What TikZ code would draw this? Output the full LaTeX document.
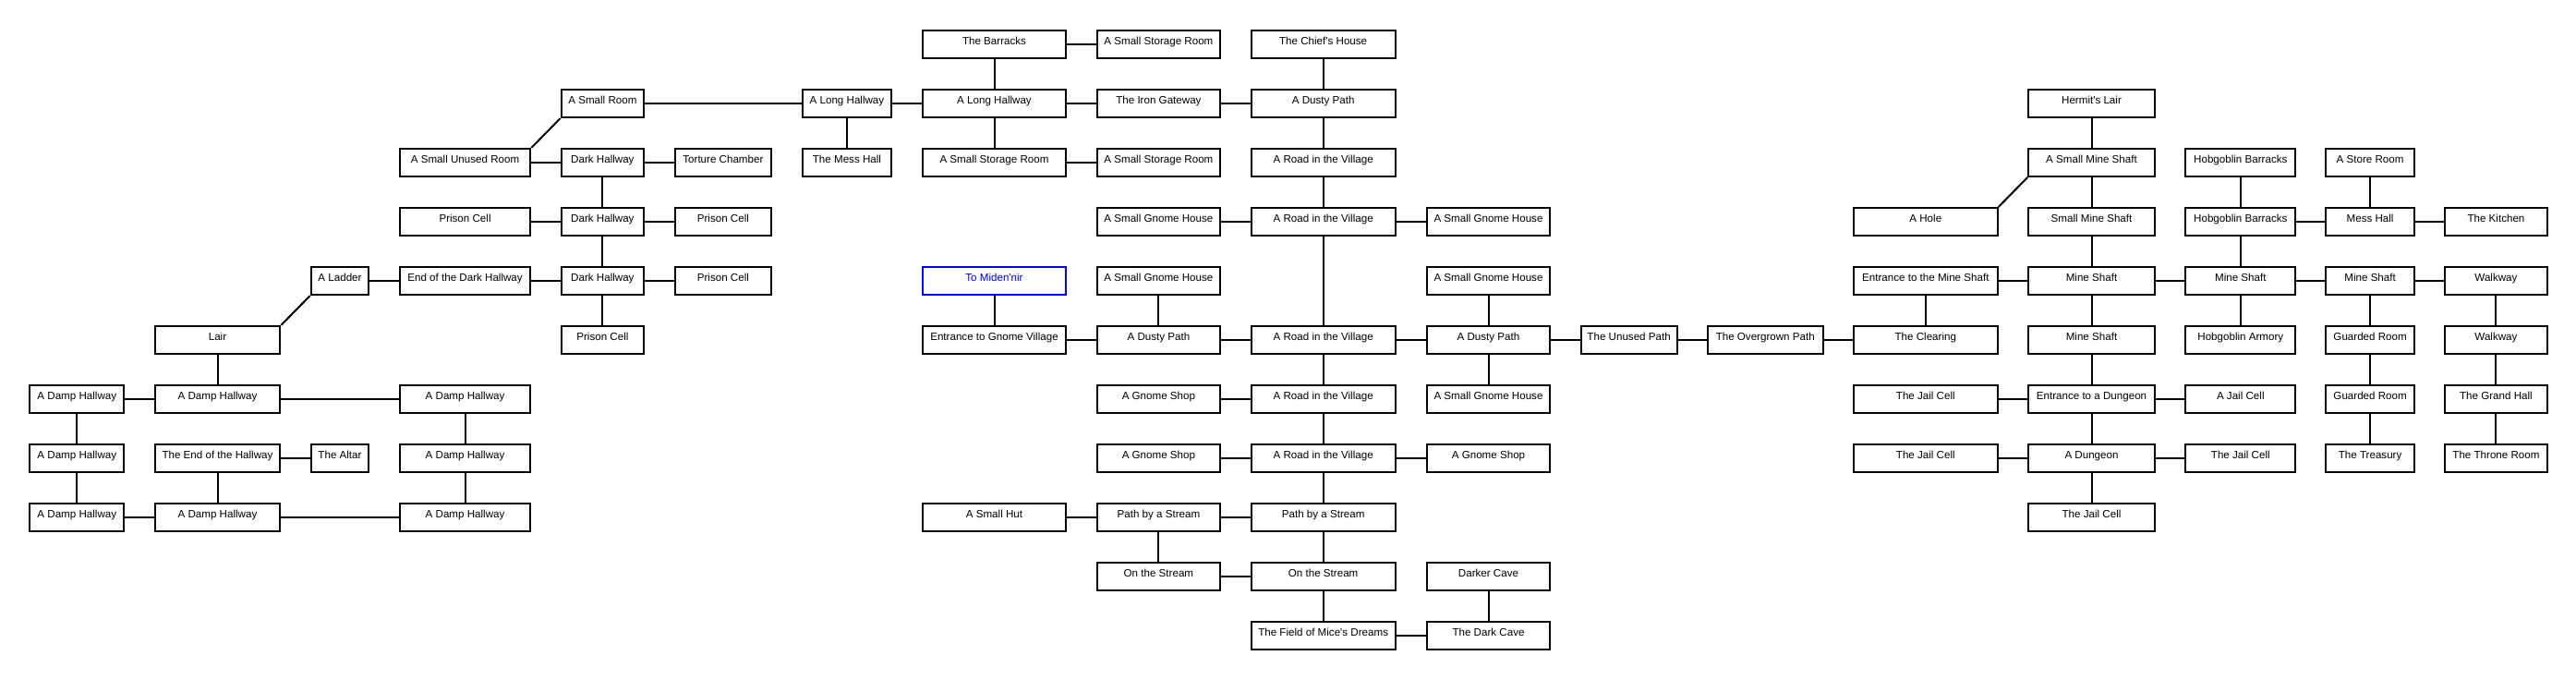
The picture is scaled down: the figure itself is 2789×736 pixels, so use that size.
\documentclass[tikz,border=0pt]{standalone}
\usepackage{fontspec}
\newfontfamily\roomfont{Liberation Sans}
\begin{document}
\begin{tikzpicture}[x=1pt,y=-1pt,
  room/.style={draw, line width=2pt, inner sep=0pt, minimum height=30pt,
    text height=15.3pt, text depth=14.7pt,
    font=\roomfont\fontsize{11.6}{13}\selectfont},
  link/.style={line width=2pt},
  portal/.style={draw=blue, text=blue},
  w1/.style={minimum width=101.8pt},
  w2/.style={minimum width=135.6pt},
  w3/.style={minimum width=62.6pt},
  w4/.style={minimum width=141.5pt},
  w5/.style={minimum width=89.4pt},
  w6/.style={minimum width=104.8pt},
  w7/.style={minimum width=96.5pt},
  w8/.style={minimum width=155.8pt},
  w9/.style={minimum width=133.2pt},
  w10/.style={minimum width=156.3pt},
  w11/.style={minimum width=133.2pt},
  w12/.style={minimum width=104.2pt},
  w13/.style={minimum width=124.5pt},
  w14/.style={minimum width=155.8pt},
  w15/.style={minimum width=136.8pt},
  w16/.style={minimum width=119pt},
  w17/.style={minimum width=95.8pt},
  w18/.style={minimum width=110.1pt}]
\useasboundingbox (0,0) rectangle (2789,736);
% row 0
\node[room,w8] (barracks) at (1076.5,48) {The Barracks};
\node[room,w9] (ssr0) at (1254.4,48) {A Small Storage Room};
\node[room,w10] (chief) at (1432.65,48) {The Chief's House};
% row 1
\node[room,w5] (sr) at (652.4,112) {A Small Room};
\node[room,w7] (lhw) at (916.95,112) {A Long Hallway};
\node[room,w8] (lh) at (1076.5,112) {A Long Hallway};
\node[room,w9] (iron) at (1254.4,112) {The Iron Gateway};
\node[room,w10] (dusty1) at (1432.65,112) {A Dusty Path};
\node[room,w15] (hermit) at (2264.5,112) {Hermit's Lair};
% row 2
\node[room,w4] (unused) at (503.55,176) {A Small Unused Room};
\node[room,w5] (dh2) at (652.4,176) {Dark Hallway};
\node[room,w6] (torture) at (782.9,176) {Torture Chamber};
\node[room,w7] (mess) at (916.95,176) {The Mess Hall};
\node[room,w8] (ssr2a) at (1076.5,176) {A Small Storage Room};
\node[room,w9] (ssr2b) at (1254.4,176) {A Small Storage Room};
\node[room,w10] (road2) at (1432.65,176) {A Road in the Village};
\node[room,w15] (asms) at (2264.5,176) {A Small Mine Shaft};
\node[room,w16] (hb2) at (2425.8,176) {Hobgoblin Barracks};
\node[room,w17] (store) at (2566.1,176) {A Store Room};
% row 3
\node[room,w4] (pc3a) at (503.55,240) {Prison Cell};
\node[room,w5] (dh3) at (652.4,240) {Dark Hallway};
\node[room,w6] (pc3b) at (782.9,240) {Prison Cell};
\node[room,w9] (sgh3a) at (1254.4,240) {A Small Gnome House};
\node[room,w10] (road3) at (1432.65,240) {A Road in the Village};
\node[room,w11] (sgh3b) at (1611.5,240) {A Small Gnome House};
\node[room,w14] (hole) at (2084.8,240) {A Hole};
\node[room,w15] (sms) at (2264.5,240) {Small Mine Shaft};
\node[room,w16] (hb3) at (2425.8,240) {Hobgoblin Barracks};
\node[room,w17] (messhall) at (2566.1,240) {Mess Hall};
\node[room,w18] (kitchen) at (2702.45,240) {The Kitchen};
% row 4
\node[room,w3] (ladder) at (368,304) {A Ladder};
\node[room,w4] (enddh) at (503.55,304) {End of the Dark Hallway};
\node[room,w5] (dh4) at (652.4,304) {Dark Hallway};
\node[room,w6] (pc4) at (782.9,304) {Prison Cell};
\node[room,w8,portal] (miden) at (1076.5,304) {To Miden'nir};
\node[room,w9] (sgh4a) at (1254.4,304) {A Small Gnome House};
\node[room,w11] (sgh4b) at (1611.5,304) {A Small Gnome House};
\node[room,w14] (ems) at (2084.8,304) {Entrance to the Mine Shaft};
\node[room,w15] (ms4a) at (2264.5,304) {Mine Shaft};
\node[room,w16] (ms4b) at (2425.8,304) {Mine Shaft};
\node[room,w17] (ms4c) at (2566.1,304) {Mine Shaft};
\node[room,w18] (walk4) at (2702.45,304) {Walkway};
% row 5
\node[room,w2] (lair) at (235.5,368) {Lair};
\node[room,w5] (pc5) at (652.4,368) {Prison Cell};
\node[room,w8] (egv) at (1076.5,368) {Entrance to Gnome Village};
\node[room,w9] (dp5a) at (1254.4,368) {A Dusty Path};
\node[room,w10] (road5) at (1432.65,368) {A Road in the Village};
\node[room,w11] (dp5b) at (1611.5,368) {A Dusty Path};
\node[room,w12] (unusedpath) at (1763.6,368) {The Unused Path};
\node[room,w13] (overgrown) at (1911.25,368) {The Overgrown Path};
\node[room,w14] (clearing) at (2084.8,368) {The Clearing};
\node[room,w15] (ms5) at (2264.5,368) {Mine Shaft};
\node[room,w16] (armory) at (2425.8,368) {Hobgoblin Armory};
\node[room,w17] (guard5) at (2566.1,368) {Guarded Room};
\node[room,w18] (walk5) at (2702.45,368) {Walkway};
% row 6
\node[room,w1] (dmp6a) at (83.3,432) {A Damp Hallway};
\node[room,w2] (dmp6b) at (235.5,432) {A Damp Hallway};
\node[room,w4] (dmp6c) at (503.55,432) {A Damp Hallway};
\node[room,w9] (gs6) at (1254.4,432) {A Gnome Shop};
\node[room,w10] (road6) at (1432.65,432) {A Road in the Village};
\node[room,w11] (sgh6) at (1611.5,432) {A Small Gnome House};
\node[room,w14] (jc6) at (2084.8,432) {The Jail Cell};
\node[room,w15] (ead) at (2264.5,432) {Entrance to a Dungeon};
\node[room,w16] (ajc) at (2425.8,432) {A Jail Cell};
\node[room,w17] (guard6) at (2566.1,432) {Guarded Room};
\node[room,w18] (grand) at (2702.45,432) {The Grand Hall};
% row 7
\node[room,w1] (dmp7a) at (83.3,496) {A Damp Hallway};
\node[room,w2] (endh) at (235.5,496) {The End of the Hallway};
\node[room,w3] (altar) at (368,496) {The Altar};
\node[room,w4] (dmp7c) at (503.55,496) {A Damp Hallway};
\node[room,w9] (gs7a) at (1254.4,496) {A Gnome Shop};
\node[room,w10] (road7) at (1432.65,496) {A Road in the Village};
\node[room,w11] (gs7b) at (1611.5,496) {A Gnome Shop};
\node[room,w14] (jc7a) at (2084.8,496) {The Jail Cell};
\node[room,w15] (dungeon) at (2264.5,496) {A Dungeon};
\node[room,w16] (jc7b) at (2425.8,496) {The Jail Cell};
\node[room,w17] (treasury) at (2566.1,496) {The Treasury};
\node[room,w18] (throne) at (2702.45,496) {The Throne Room};
% row 8
\node[room,w1] (dmp8a) at (83.3,560) {A Damp Hallway};
\node[room,w2] (dmp8b) at (235.5,560) {A Damp Hallway};
\node[room,w4] (dmp8c) at (503.55,560) {A Damp Hallway};
\node[room,w8] (hut) at (1076.5,560) {A Small Hut};
\node[room,w9] (pbs8a) at (1254.4,560) {Path by a Stream};
\node[room,w10] (pbs8b) at (1432.65,560) {Path by a Stream};
\node[room,w15] (jc8) at (2264.5,560) {The Jail Cell};
% row 9
\node[room,w9] (ots9a) at (1254.4,624) {On the Stream};
\node[room,w10] (ots9b) at (1432.65,624) {On the Stream};
\node[room,w11] (darker) at (1611.5,624) {Darker Cave};
% row 10
\node[room,w10] (field) at (1432.65,688) {The Field of Mice's Dreams};
\node[room,w11] (darkcave) at (1611.5,688) {The Dark Cave};

% ---- connectors: left cluster
\draw[link] (sr) -- (lhw);
\draw[link] (lhw) -- (lh);
\draw[link] (lhw) -- (mess);
\draw[link] (sr.south west) -- (unused.north east);
\draw[link] (unused) -- (dh2);
\draw[link] (dh2) -- (torture);
\draw[link] (dh2) -- (dh3);
\draw[link] (pc3a) -- (dh3);
\draw[link] (dh3) -- (pc3b);
\draw[link] (dh3) -- (dh4);
\draw[link] (enddh) -- (dh4);
\draw[link] (dh4) -- (pc4);
\draw[link] (dh4) -- (pc5);
\draw[link] (ladder) -- (enddh);
\draw[link] (ladder.south west) -- (lair.north east);
\draw[link] (lair) -- (dmp6b);
\draw[link] (dmp6a) -- (dmp6b);
\draw[link] (dmp6b) -- (dmp6c);
\draw[link] (dmp6a) -- (dmp7a);
\draw[link] (dmp7a) -- (dmp8a);
\draw[link] (dmp6c) -- (dmp7c);
\draw[link] (dmp7c) -- (dmp8c);
\draw[link] (endh) -- (altar);
\draw[link] (endh) -- (dmp8b);
\draw[link] (dmp8a) -- (dmp8b);
\draw[link] (dmp8b) -- (dmp8c);
% ---- middle cluster
\draw[link] (barracks) -- (ssr0);
\draw[link] (barracks) -- (lh);
\draw[link] (lh) -- (iron);
\draw[link] (iron) -- (dusty1);
\draw[link] (lh) -- (ssr2a);
\draw[link] (ssr2a) -- (ssr2b);
\draw[link] (chief) -- (dusty1);
\draw[link] (dusty1) -- (road2);
\draw[link] (road2) -- (road3);
\draw[link] (sgh3a) -- (road3);
\draw[link] (road3) -- (sgh3b);
\draw[link] (road3) -- (road5);
\draw[link] (miden) -- (egv);
\draw[link] (sgh4a) -- (dp5a);
\draw[link] (sgh4b) -- (dp5b);
\draw[link] (egv) -- (dp5a);
\draw[link] (dp5a) -- (road5);
\draw[link] (road5) -- (dp5b);
\draw[link] (dp5b) -- (unusedpath);
\draw[link] (unusedpath) -- (overgrown);
\draw[link] (overgrown) -- (clearing);
\draw[link] (road5) -- (road6);
\draw[link] (dp5b) -- (sgh6);
\draw[link] (gs6) -- (road6);
\draw[link] (road6) -- (road7);
\draw[link] (gs7a) -- (road7);
\draw[link] (road7) -- (gs7b);
\draw[link] (road7) -- (pbs8b);
\draw[link] (hut) -- (pbs8a);
\draw[link] (pbs8a) -- (pbs8b);
\draw[link] (pbs8a) -- (ots9a);
\draw[link] (pbs8b) -- (ots9b);
\draw[link] (ots9a) -- (ots9b);
\draw[link] (ots9b) -- (field);
\draw[link] (darker) -- (darkcave);
\draw[link] (field) -- (darkcave);
% ---- right cluster
\draw[link] (ems) -- (clearing);
\draw[link] (ems) -- (ms4a);
\draw[link] (ms4a) -- (ms4b);
\draw[link] (ms4b) -- (ms4c);
\draw[link] (ms4c) -- (walk4);
\draw[link] (hermit) -- (asms);
\draw[link] (asms) -- (sms);
\draw[link] (asms.south west) -- (hole.north east);
\draw[link] (sms) -- (ms4a);
\draw[link] (ms4a) -- (ms5);
\draw[link] (ms5) -- (ead);
\draw[link] (jc6) -- (ead);
\draw[link] (ead) -- (ajc);
\draw[link] (ead) -- (dungeon);
\draw[link] (jc7a) -- (dungeon);
\draw[link] (dungeon) -- (jc7b);
\draw[link] (dungeon) -- (jc8);
\draw[link] (hb2) -- (hb3);
\draw[link] (hb3) -- (messhall);
\draw[link] (messhall) -- (kitchen);
\draw[link] (store) -- (messhall);
\draw[link] (hb3) -- (ms4b);
\draw[link] (ms4b) -- (armory);
\draw[link] (ms4c) -- (guard5);
\draw[link] (guard5) -- (guard6);
\draw[link] (guard6) -- (treasury);
\draw[link] (walk4) -- (walk5);
\draw[link] (walk5) -- (grand);
\draw[link] (grand) -- (throne);
\end{tikzpicture}
\end{document}
